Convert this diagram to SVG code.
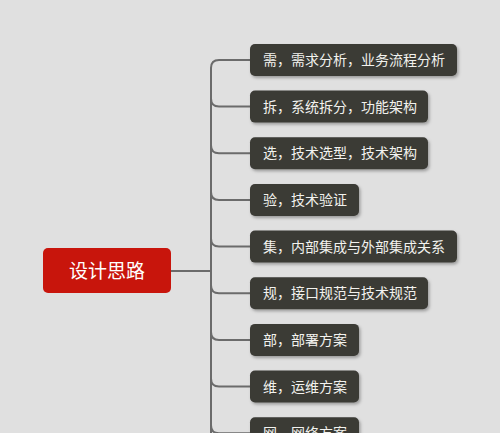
<svg xmlns="http://www.w3.org/2000/svg" width="500" height="433" viewBox="0 0 500 433">
<defs>
<filter id="sh" x="-10%" y="-20%" width="125%" height="160%">
<feDropShadow dx="1.5" dy="2" stdDeviation="1.5" flood-color="#000" flood-opacity="0.3"/>
</filter>
<style>
.n rect{fill:#3b3a35;filter:url(#sh)}
.n text{fill:#f2f2ee;font-family:"Noto Sans CJK SC","Noto Sans",sans-serif;font-size:14px}
.c{fill:none;stroke:#6b6b6b;stroke-width:2}
</style>
</defs>
<rect width="500" height="433" fill="#e0e0e0"/>
<g id="connectors">
<path class="c" d="M171,271 H211"/>
<path class="c" d="M250,60 H219 Q211,60 211,68 V440"/>
<path class="c" d="M211,98.6 Q211,106.6 219,106.6 H250"/>
<path class="c" d="M211,145.3 Q211,153.3 219,153.3 H250"/>
<path class="c" d="M211,192 Q211,200 219,200 H250"/>
<path class="c" d="M211,238.6 Q211,246.6 219,246.6 H250"/>
<path class="c" d="M211,285.2 Q211,293.2 219,293.2 H250"/>
<path class="c" d="M211,331.9 Q211,339.9 219,339.9 H250"/>
<path class="c" d="M211,378.5 Q211,386.5 219,386.5 H250"/>
<path class="c" d="M211,425.2 Q211,433.2 219,433.2 H250"/>
</g>
<g id="root">
<rect x="43" y="248" width="128" height="45" rx="5" fill="#c8150c"/>
<text x="107" y="277.5" text-anchor="middle" fill="#fff" font-family="Noto Sans CJK SC, sans-serif" font-size="19">设计思路</text>
</g>
<g id="n1" class="n"><rect x="250" y="44" width="207" height="32" rx="5"/><text x="263" y="65">需，需求分析，业务流程分析</text></g>
<g id="n2" class="n"><rect x="250" y="90.6" width="178" height="32" rx="5"/><text x="263" y="111.6">拆，系统拆分，功能架构</text></g>
<g id="n3" class="n"><rect x="250" y="137.3" width="178" height="32" rx="5"/><text x="263" y="158.3">选，技术选型，技术架构</text></g>
<g id="n4" class="n"><rect x="250" y="184" width="109" height="32" rx="5"/><text x="263" y="205">验，技术验证</text></g>
<g id="n5" class="n"><rect x="250" y="230.6" width="207" height="32" rx="5"/><text x="263" y="251.6">集，内部集成与外部集成关系</text></g>
<g id="n6" class="n"><rect x="250" y="277.2" width="178" height="32" rx="5"/><text x="263" y="298.2">规，接口规范与技术规范</text></g>
<g id="n7" class="n"><rect x="250" y="323.9" width="109" height="32" rx="5"/><text x="263" y="344.9">部，部署方案</text></g>
<g id="n8" class="n"><rect x="250" y="370.5" width="109" height="32" rx="5"/><text x="263" y="391.5">维，运维方案</text></g>
<g id="n9" class="n"><rect x="250" y="417.2" width="109" height="32" rx="5"/><text x="263" y="438.2">网，网络方案</text></g>
</svg>
